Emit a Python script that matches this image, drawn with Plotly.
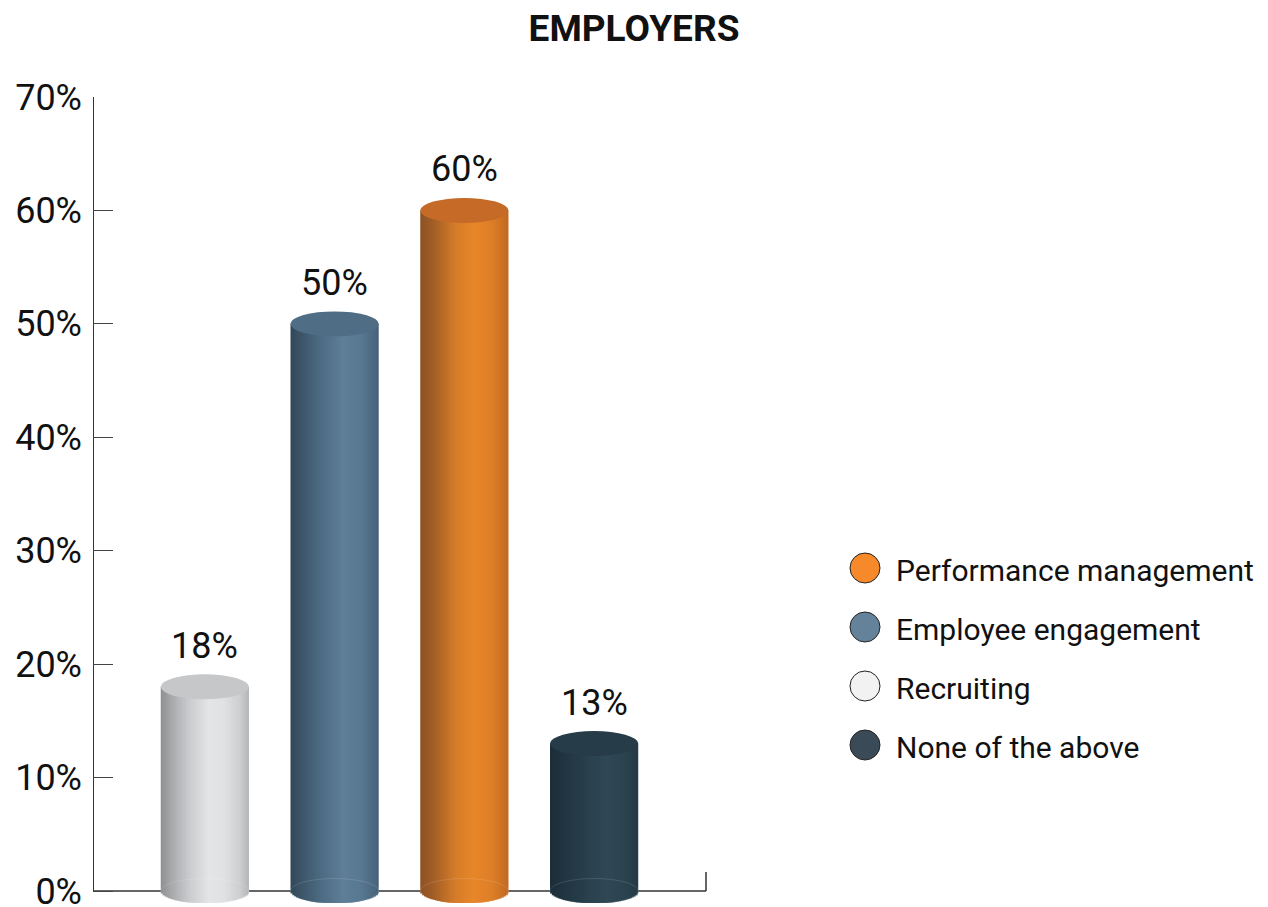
import plotly.graph_objects as go
import numpy as np

# ---- data ----
categories = ["Recruiting", "Employee engagement", "Performance management", "None of the above"]
values = [18, 50, 60, 13]
legend_order = ["Performance management", "Employee engagement", "Recruiting", "None of the above"]
y_ticks = [0, 10, 20, 30, 40, 50, 60, 70]

# ---- styling ----
FONT = "Roboto"
# left-to-right shading stops for each cylinder body (position, colour)
body_stops = {
    "Recruiting": [(0, "#8D8F91"), (0.12, "#A7A9AB"), (0.32, "#C9CBCD"), (0.55, "#E4E5E6"),
                   (0.72, "#E0E1E2"), (0.9, "#CDCED0"), (1, "#B3B5B7")],
    "Employee engagement": [(0, "#324858"), (0.15, "#3E586C"), (0.4, "#517088"), (0.6, "#5E7F97"),
                            (0.8, "#587891"), (1, "#46637A")],
    "Performance management": [(0, "#8C5227"), (0.15, "#A25E26"), (0.4, "#D57C29"), (0.6, "#E88629"),
                               (0.8, "#DE7F28"), (1, "#C26922")],
    "None of the above": [(0, "#1B2D39"), (0.2, "#223743"), (0.5, "#2C4450"), (0.65, "#2F4855"),
                          (0.85, "#2B434F"), (1, "#243A46")],
}
top_colors = {
    "Recruiting": "#C6C7C9",
    "Employee engagement": "#4F6E86",
    "Performance management": "#C56B27",
    "None of the above": "#263C48",
}
legend_colors = {
    "Performance management": "#F6892A",
    "Employee engagement": "#64829A",
    "Recruiting": "#F2F2F2",
    "None of the above": "#3B4A57",
}

BAR_W = 0.68        # cylinder width in category units
CAP_H = 1.1         # half-height of the elliptical caps, in % units
N_STRIPS = 48
X_RANGE = [-0.862, 3.87]
PX_PER_UNIT = 794 / 70          # vertical pixels per percentage point
Y_RANGE = [-12 / PX_PER_UNIT, 70]  # room under 0 for the rounded cylinder bottoms


def hex_to_rgb(h):
    h = h.lstrip("#")
    return np.array([int(h[i:i + 2], 16) for i in (0, 2, 4)], dtype=float)


def shade(stops, t):
    pos = [p for p, _ in stops]
    cols = np.array([hex_to_rgb(c) for _, c in stops])
    rgb = [np.interp(t, pos, cols[:, j]) for j in range(3)]
    return "rgb({:.0f},{:.0f},{:.0f})".format(*rgb)


fig = go.Figure()
x_idx = list(range(len(categories)))
step = BAR_W / N_STRIPS

# axis lines (drawn behind the cylinders)
x_left = X_RANGE[0] + 0.5 / 130
fig.add_shape(type="line", xref="x", yref="y", x0=x_left, x1=x_left, y0=0, y1=70,
              line=dict(color="#333", width=1), layer="below")
fig.add_shape(type="line", xref="x", yref="y", x0=X_RANGE[0], x1=X_RANGE[1] - 1 / 130, y0=0, y1=0,
              line=dict(color="#333", width=1.5), layer="below")
fig.add_shape(type="line", xref="x", yref="y", x0=X_RANGE[1] - 1 / 130, x1=X_RANGE[1] - 1 / 130,
              y0=0, y1=19 / PX_PER_UNIT, line=dict(color="#333", width=1.5), layer="below")

# cylinder bodies: vertical strips with a curved bottom edge
for k in range(N_STRIPS):
    tc = (k + 0.5) / N_STRIPS
    depth = CAP_H * np.sqrt(max(0.0, 1 - (2 * tc - 1) ** 2))
    width = step * 1.6 if k < N_STRIPS - 1 else step
    fig.add_trace(go.Bar(
        x=x_idx,
        y=[v + depth for v in values],
        base=[-depth] * len(values),
        offset=-BAR_W / 2 + k * step,
        width=width,
        marker=dict(color=[shade(body_stops[c], tc) for c in categories], line=dict(width=0)),
        showlegend=False,
        hoverinfo="skip",
    ))

# elliptical tops, faint back rim at the base, value labels
for i, (c, v) in enumerate(zip(categories, values)):
    fig.add_shape(type="circle", xref="x", yref="y",
                  x0=i - BAR_W / 2, x1=i + BAR_W / 2, y0=-CAP_H, y1=CAP_H,
                  fillcolor="rgba(0,0,0,0)", line=dict(width=1, color="rgba(255,255,255,0.12)"),
                  layer="above")
    fig.add_shape(type="circle", xref="x", yref="y",
                  x0=i - BAR_W / 2, x1=i + BAR_W / 2, y0=v - CAP_H, y1=v + CAP_H,
                  fillcolor=top_colors[c], line=dict(width=0), layer="above")
    fig.add_annotation(x=i, y=v, xref="x", yref="y", text=f"{v}%", showarrow=False,
                       yanchor="bottom", yshift=18, font=dict(family=FONT, size=36, color="#111"))

# custom legend on a hidden helper axis
leg_y = [471 + 59 * j for j in range(len(legend_order))]
fig.add_trace(go.Scatter(
    x=[73] * len(legend_order), y=leg_y, mode="markers",
    marker=dict(size=30, color=[legend_colors[n] for n in legend_order], line=dict(color="#222", width=1)),
    xaxis="x2", yaxis="y2", showlegend=False, hoverinfo="skip",
))
for n, yy in zip(legend_order, leg_y):
    fig.add_annotation(x=102, y=yy + 2, xref="x2", yref="y2", text=n, showarrow=False,
                       xanchor="left", yanchor="middle", font=dict(family=FONT, size=30, color="#111"))

fig.update_layout(
    width=1268, height=907,
    margin=dict(l=93, r=10, t=97, b=4),
    paper_bgcolor="white", plot_bgcolor="white",
    barmode="overlay",
    showlegend=False,
    title=dict(text="<b>EMPLOYERS</b>", x=0.5, xref="container", y=1 - 28 / 907, yanchor="middle",
               xanchor="center", font=dict(family=FONT, size=37, color="#111")),
    xaxis=dict(domain=[0, 614 / 1165], range=X_RANGE, showgrid=False, zeroline=False,
               showline=False, showticklabels=False, ticks="", automargin=False, fixedrange=True),
    yaxis=dict(range=Y_RANGE, showgrid=False, zeroline=False, showline=False,
               tickmode="array", tickvals=y_ticks,
               ticktext=[f"{t}%" for t in y_ticks], ticks="inside", ticklen=20, tickcolor="#444",
               tickwidth=1, ticklabelstandoff=10, ticklabeloverflow="allow", automargin=False,
               tickfont=dict(family=FONT, size=36, color="#111"), fixedrange=True),
    xaxis2=dict(domain=[0.6, 1.0], range=[0, 466], anchor="y2", visible=False, fixedrange=True),
    yaxis2=dict(domain=[0, 1], range=[806, 0], anchor="x2", visible=False, fixedrange=True),
)

fig.write_html("out.html")
